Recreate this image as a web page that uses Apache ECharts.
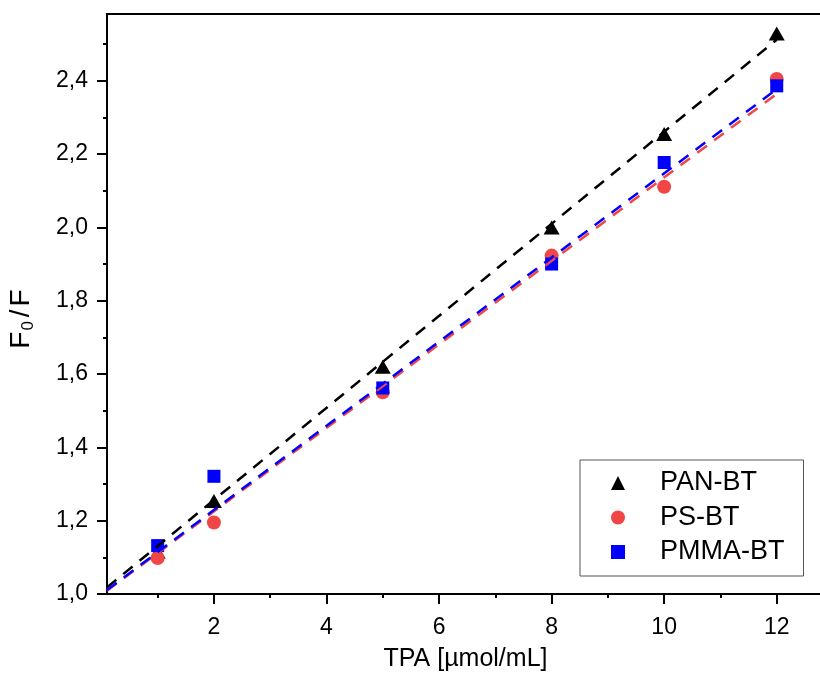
<!DOCTYPE html>
<html>
<head>
<meta charset="utf-8">
<script src="https://cdn.jsdelivr.net/npm/echarts@6/dist/echarts.min.js"></script>
<style>
  html, body { margin: 0; padding: 0; background: #fff; }
  #chart { width: 820px; height: 682px; }
</style>
</head>
<body>
<div id="chart"></div>
<script>
// measured points
const tpa = [1, 2, 5, 8, 10, 12];
const panBT = [1.115, 1.254, 1.62, 2.0, 2.255, 2.529];
const psBT = [1.098, 1.195, 1.55, 1.923, 2.111, 2.405];
const pmmaBT = [1.132, 1.321, 1.562, 1.9, 2.177, 2.386];

// linear fits (end points)
const fitX = [0.1, 12];
const panFit = [1.018, 2.512];
const psFit = [1.009, 2.364];
const pmmaFit = [1.011, 2.377];

// ticks
const xMajor = [2, 4, 6, 8, 10, 12];
const xMinor = [1, 3, 5, 7, 9, 11];
const yMajor = [1.0, 1.2, 1.4, 1.6, 1.8, 2.0, 2.2, 2.4];
const yMinor = [1.1, 1.3, 1.5, 1.7, 1.9, 2.1, 2.3, 2.5];

const X_MIN = 0.1, X_MAX = 12.84;
const Y_MIN = 1.0, Y_MAX = 2.582;

const FONT = "'Liberation Sans', Arial, sans-serif";
const RED = "#F04646";
const BLUE = "#0000FF";

const chart = echarts.init(document.getElementById("chart"), null, { renderer: "canvas" });

const pairs = (xs, ys) => xs.map((x, i) => [x, ys[i]]);

function fitLine(name, data, color, width) {
  return {
    name: name,
    type: "line",
    xAxisIndex: 0,
    yAxisIndex: 0,
    data: pairs(fitX, data),
    symbol: "none",
    z: 5,
    lineStyle: { color: color, width: width, type: [12, 9] },
  };
}

const option = {
  animation: false,
  backgroundColor: "#fff",
  grid: {
    left: 107, top: 14, right: -4, bottom: 88,
    outerBoundsMode: "none",
    show: true, borderColor: "#000", borderWidth: 2,
  },
  legend: {
    data: [
      { name: "PAN-BT", icon: "triangle" },
      { name: "PS-BT", icon: "circle" },
      { name: "PMMA-BT", icon: "rect" },
    ],
    orient: "vertical",
    left: 580,
    top: 460,
    itemWidth: 14,
    itemHeight: 14,
    itemGap: 6.5,
    padding: [9, 19, 10, 31],
    borderColor: "#555",
    borderWidth: 1,
    backgroundColor: "#fff",
    textStyle: { fontFamily: FONT, fontSize: 27, color: "#000", lineHeight: 28, padding: [0, 0, 0, 30] },
  },
  xAxis: [
    {
      type: "value",
      min: X_MIN,
      max: X_MAX,
      name: "TPA [µmol/mL]",
      nameLocation: "middle",
      nameGap: 53,
      nameTextStyle: { fontFamily: FONT, fontSize: 25, color: "#000" },
      axisLine: { show: true, onZero: false, lineStyle: { color: "#000", width: 2 } },
      axisTick: { show: true, inside: false, length: 10, customValues: xMajor, lineStyle: { color: "#000", width: 2 } },
      axisLabel: { customValues: xMajor, margin: 22, fontFamily: FONT, fontSize: 23, color: "#000" },
      splitLine: { show: false },
    },
    {
      type: "value",
      gridIndex: 0,
      position: "bottom",
      min: X_MIN,
      max: X_MAX,
      axisLine: { show: false },
      axisTick: { show: true, inside: false, length: 4, customValues: xMinor, lineStyle: { color: "#000", width: 2 } },
      axisLabel: { show: false },
      splitLine: { show: false },
    },
  ],
  yAxis: [
    {
      type: "value",
      min: Y_MIN,
      max: Y_MAX,
      name: "{a|F}{b|0}{s|/}{a|F}",
      nameLocation: "middle",
      nameGap: 70,
      nameRotate: 90,
      nameTextStyle: {
        padding: [0, 30, 0, 0],
        rich: {
          a: { fontFamily: FONT, fontSize: 28, color: "#000", lineHeight: 32 },
          b: { fontFamily: FONT, fontSize: 17, color: "#000", lineHeight: 17, verticalAlign: "bottom", padding: [0, 0, 0, 1] },
          s: { fontFamily: FONT, fontSize: 28, color: "#000", lineHeight: 32, padding: [0, 3, 0, 4] },
        },
      },
      axisLine: { show: true, onZero: false, lineStyle: { color: "#000", width: 2 } },
      axisTick: { show: true, inside: false, length: 10, customValues: yMajor, lineStyle: { color: "#000", width: 2 } },
      axisLabel: {
        customValues: yMajor,
        margin: 19,
        fontFamily: FONT,
        fontSize: 23,
        color: "#000",
        formatter: (v) => v.toFixed(1).replace(".", ","),
      },
      splitLine: { show: false },
    },
    {
      type: "value",
      gridIndex: 0,
      position: "left",
      min: Y_MIN,
      max: Y_MAX,
      axisLine: { show: false },
      axisTick: { show: true, inside: false, length: 4, customValues: yMinor, lineStyle: { color: "#000", width: 2 } },
      axisLabel: { show: false },
      splitLine: { show: false },
    },
  ],
  series: [
    {
      name: "PAN-BT",
      type: "scatter",
      data: pairs(tpa, panBT),
      symbol: "triangle",
      symbolSize: [16, 14],
      z: 2,
      itemStyle: { color: "#000", opacity: 1 },
    },
    {
      name: "PS-BT",
      type: "scatter",
      data: pairs(tpa, psBT),
      symbol: "circle",
      symbolSize: 14,
      z: 3,
      itemStyle: { color: RED, opacity: 1 },
    },
    {
      name: "PMMA-BT",
      type: "scatter",
      data: pairs(tpa, pmmaBT),
      symbol: "rect",
      symbolSize: 13,
      z: 4,
      itemStyle: { color: BLUE, opacity: 1 },
    },
    fitLine("PAN-BT fit", panFit, "#000", 2.5),
    fitLine("PS-BT fit", psFit, RED, 2.5),
    fitLine("PMMA-BT fit", pmmaFit, BLUE, 2.5),
  ],
};

chart.setOption(option);
</script>
</body>
</html>
